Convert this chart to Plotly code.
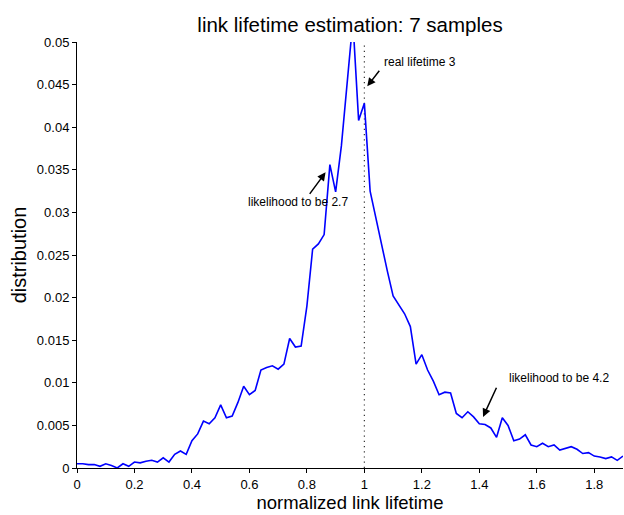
import plotly.graph_objects as go

# normalized lifetime grid (step 0.02) and estimated distribution
x_vals = [round(0.02 * k, 2) for k in range(96)]
distribution = [
    0.0005, 0.0005, 0.0004, 0.0004, 0.0002, 0.0005, 0.0003, 0.0000, 0.0005, 0.0002,
    0.0007, 0.0006, 0.0008, 0.0009, 0.0007, 0.0012, 0.0007, 0.0016, 0.0020, 0.0016,
    0.0032, 0.0040, 0.0055, 0.0052, 0.0059, 0.0074, 0.0059, 0.0061, 0.0077, 0.0096,
    0.0086, 0.0091, 0.0115, 0.0118, 0.0120, 0.0116, 0.0122, 0.0152, 0.0142, 0.0143,
    0.0190, 0.0257, 0.0263, 0.0274, 0.0356, 0.0324, 0.0378, 0.0455, 0.0525, 0.0408,
    0.0428, 0.0325, 0.0293, 0.0260, 0.0231, 0.0202, 0.0191, 0.0181, 0.0166, 0.0122,
    0.0133, 0.0115, 0.0102, 0.0086, 0.0089, 0.0088, 0.0064, 0.0059, 0.0066, 0.0060,
    0.0052, 0.0051, 0.0047, 0.0036, 0.0059, 0.0050, 0.0032, 0.0034, 0.0039, 0.0027,
    0.0025, 0.0029, 0.0025, 0.0027, 0.0021, 0.0023, 0.0025, 0.0022, 0.0017, 0.0018,
    0.0014, 0.0013, 0.0011, 0.0013, 0.0009, 0.0014,
]

real_lifetime_x = 1.0
x_ticks = [0, 0.2, 0.4, 0.6, 0.8, 1, 1.2, 1.4, 1.6, 1.8]
x_tick_labels = ["0", "0.2", "0.4", "0.6", "0.8", "1", "1.2", "1.4", "1.6", "1.8"]
y_ticks = [0, 0.005, 0.01, 0.015, 0.02, 0.025, 0.03, 0.035, 0.04, 0.045, 0.05]
y_tick_labels = ["0", "0.005", "0.01", "0.015", "0.02", "0.025", "0.03", "0.035", "0.04", "0.045", "0.05"]

# annotations: (text, text_x, text_y, arrow_head_x, arrow_head_y, arrow_tail_x, arrow_tail_y)
notes = [
    ("real lifetime 3", 1.195, 0.0477, 1.01, 0.0448, 1.056, 0.0468),
    ("likelihood to be 2.7", 0.769, 0.0312, 0.865, 0.0347, 0.806, 0.0320),
    ("likelihood to be 4.2", 1.677, 0.0106, 1.413, 0.0060, 1.462, 0.0096),
]

FONT = "Liberation Sans, Arial, Helvetica, sans-serif"

fig = go.Figure()
fig.add_trace(go.Scatter(
    x=[real_lifetime_x, real_lifetime_x], y=[0, 0.05], mode="lines",
    line=dict(color="#333333", width=1.2, dash="1.2px,4px"), showlegend=False, hoverinfo="skip",
))
fig.add_trace(go.Scatter(
    x=x_vals, y=distribution, mode="lines",
    line=dict(color="#0000ff", width=1.6), showlegend=False,
))

annotations = []
for text, tx, ty, hx, hy, sx, sy in notes:
    annotations.append(dict(
        x=hx, y=hy, ax=sx, ay=sy, xref="x", yref="y", axref="x", ayref="y",
        text="", showarrow=True, arrowhead=2, arrowsize=1.1, arrowwidth=1.5,
        arrowcolor="black",
    ))
    annotations.append(dict(
        x=tx, y=ty, xref="x", yref="y", text=text, showarrow=False,
        font=dict(family=FONT, size=12, color="black"),
        xanchor="center", yanchor="middle",
    ))

fig.update_layout(
    width=624, height=515,
    margin=dict(l=77, r=1, t=42, b=47),
    paper_bgcolor="white", plot_bgcolor="white",
    title=dict(text="link lifetime estimation: 7 samples", x=350 / 624, xanchor="center",
               y=1 - 25 / 515, yanchor="middle", yref="container",
               font=dict(family=FONT, size=20.5, color="black")),
    annotations=annotations,
    font=dict(family=FONT, color="black"),
)
fig.update_xaxes(
    range=[0, 1.9], tickvals=x_ticks, ticktext=x_tick_labels,
    showline=True, linecolor="black", linewidth=1, mirror=False,
    ticks="outside", ticklen=4, tickcolor="black", showgrid=False, zeroline=False,
    tickfont=dict(family=FONT, size=13, color="black"),
    title=dict(text="normalized link lifetime", standoff=4,
               font=dict(family=FONT, size=18.5, color="black")),
)
fig.update_yaxes(
    range=[0, 0.05], tickvals=y_ticks, ticktext=y_tick_labels,
    showline=True, linecolor="black", linewidth=1, mirror=False,
    ticks="outside", ticklen=4, tickcolor="black", showgrid=False, zeroline=False,
    tickfont=dict(family=FONT, size=13, color="black"),
    title=dict(text="distribution", standoff=4,
               font=dict(family=FONT, size=20, color="black")),
)

fig.write_html(
    "out.html",
    config={"displayModeBar": False},
    post_script="document.body.style.margin='0';document.body.style.overflow='hidden';",
)
